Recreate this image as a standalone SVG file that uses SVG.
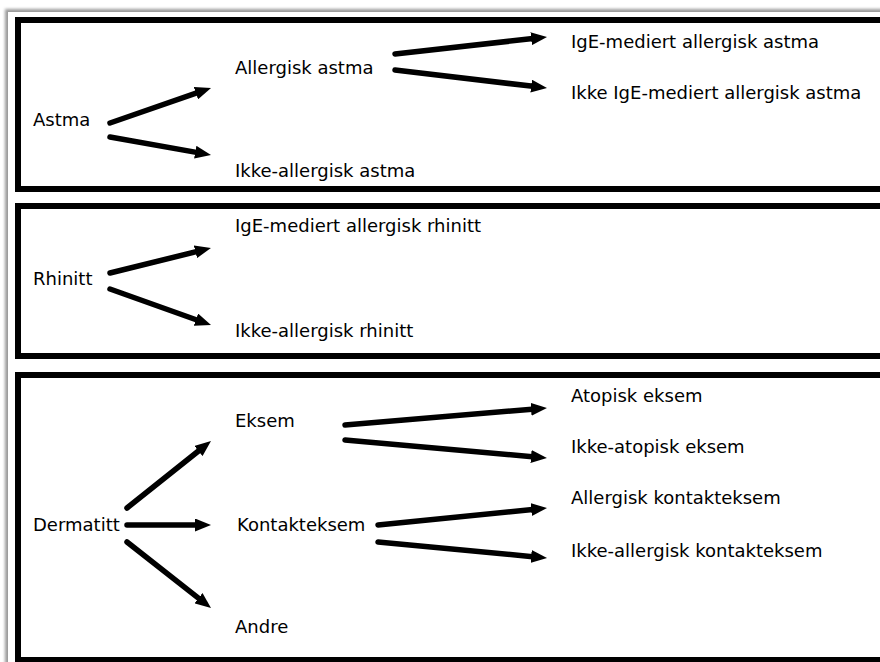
<svg xmlns="http://www.w3.org/2000/svg" width="880" height="662" viewBox="0 0 880 662">
  <defs>
    <filter id="sh" x="-5%" y="-5%" width="110%" height="110%">
      <feGaussianBlur stdDeviation="1.8"/>
    </filter>
    <marker id="ah" markerUnits="userSpaceOnUse" markerWidth="16" markerHeight="13" refX="4" refY="6.5" orient="auto">
      <path d="M0,0 L16,6.5 L0,13 z" fill="#000"/>
    </marker>
    <style>
      text { font-family: "DejaVu Sans", "Open Sans", sans-serif; font-size: 18px; fill: #000; }
      .box { fill: #fff; stroke: #000; stroke-width: 6; }
      .c { fill: none; stroke: #000; stroke-width: 5.5; stroke-linecap: round; marker-end: url(#ah); }
    </style>
  </defs>
  <rect x="0" y="0" width="880" height="662" fill="#fff"/>
  <rect x="5" y="9" width="900" height="700" fill="#9a9a9a" filter="url(#sh)"/>
  <rect x="8" y="12" width="900" height="700" fill="#fff"/>

  <g id="box-astma"><rect class="box" x="18" y="20" width="880" height="169"/></g>
  <g id="box-rhinitt"><rect class="box" x="18" y="206" width="880" height="150"/></g>
  <g id="box-dermatitt"><rect class="box" x="18" y="375" width="880" height="285"/></g>

  <g id="connectors">
    <line class="c" x1="110" y1="123" x2="199.7" y2="91.9"/>
    <line class="c" x1="110" y1="137" x2="199.2" y2="152.9"/>
    <line class="c" x1="395" y1="54" x2="535.1" y2="38.3"/>
    <line class="c" x1="395" y1="70" x2="535.1" y2="86.6"/>
    <line class="c" x1="110" y1="273" x2="199.3" y2="250.9"/>
    <line class="c" x1="110" y1="289" x2="199.7" y2="321"/>
    <line class="c" x1="127" y1="508" x2="201.6" y2="448.5"/>
    <line class="c" x1="127" y1="525" x2="199" y2="525"/>
    <line class="c" x1="127" y1="542" x2="201.6" y2="600.6"/>
    <line class="c" x1="345" y1="425" x2="535" y2="409"/>
    <line class="c" x1="345" y1="440" x2="535" y2="456.9"/>
    <line class="c" x1="378" y1="525" x2="535.1" y2="509.2"/>
    <line class="c" x1="378" y1="542" x2="535.1" y2="556.9"/>
  </g>

  <g id="n-astma"><text x="33" y="126">Astma</text></g>
  <g id="n-allergisk-astma"><text x="235" y="74">Allergisk astma</text></g>
  <g id="n-ikke-allergisk-astma"><text x="235" y="177">Ikke-allergisk astma</text></g>
  <g id="n-ige-astma"><text x="571" y="48">IgE-mediert allergisk astma</text></g>
  <g id="n-ikke-ige-astma"><text x="571" y="99">Ikke IgE-mediert allergisk astma</text></g>

  <g id="n-rhinitt"><text x="33" y="285">Rhinitt</text></g>
  <g id="n-ige-rhinitt"><text x="235" y="232">IgE-mediert allergisk rhinitt</text></g>
  <g id="n-ikke-allergisk-rhinitt"><text x="235" y="337">Ikke-allergisk rhinitt</text></g>

  <g id="n-dermatitt"><text x="33" y="531">Dermatitt</text></g>
  <g id="n-eksem"><text x="235" y="427">Eksem</text></g>
  <g id="n-kontakteksem"><text x="237" y="531">Kontakteksem</text></g>
  <g id="n-andre"><text x="235" y="633">Andre</text></g>
  <g id="n-atopisk"><text x="571" y="402">Atopisk eksem</text></g>
  <g id="n-ikke-atopisk"><text x="571" y="453">Ikke-atopisk eksem</text></g>
  <g id="n-allergisk-kontakt"><text x="571" y="504">Allergisk kontakteksem</text></g>
  <g id="n-ikke-allergisk-kontakt"><text x="571" y="557">Ikke-allergisk kontakteksem</text></g>
</svg>
